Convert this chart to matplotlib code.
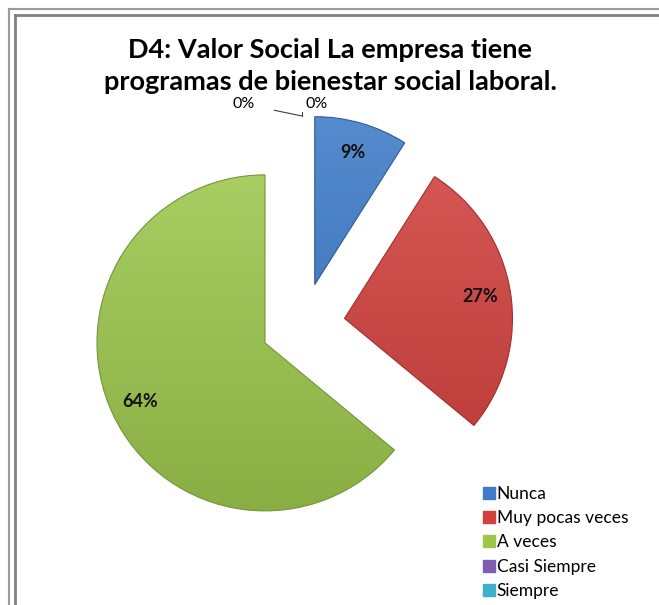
import numpy as np
import matplotlib.pyplot as plt
from matplotlib.lines import Line2D
from matplotlib.colors import to_rgb

title = "D4: Valor Social La empresa tiene\nprogramas de bienestar social laboral."
categories = ["Nunca", "Muy pocas veces", "A veces", "Casi Siempre", "Siempre"]
values = [9, 27, 64, 0, 0]
colors = ["#3E7CC8", "#D2413E", "#9CC64C", "#7E5DB2", "#3FB0CC"]

W, H = 659, 605
fig = plt.figure(figsize=(W / 100, H / 100), dpi=100)
ax = fig.add_axes([0, 0, 1, 1])

cx, cy, r = 303, H - 325, 168
wedges, texts, autotexts = ax.pie(
    values,
    colors=colors,
    startangle=90,
    counterclock=False,
    explode=[42] * len(values),
    center=(cx, cy),
    radius=r,
    autopct=lambda p: "" if p < 0.5 else "%.0f%%" % p,
    pctdistance=0.82,
    textprops=dict(fontsize=13, fontweight="bold", family="Lato", color="#111111"),
    wedgeprops=dict(linewidth=0),
)

# vertical gradient inside each wedge (lighter at the top)
for w, c, v in zip(wedges, colors, values):
    if v == 0:
        w.set_visible(False)
        continue
    base = np.array(to_rgb(c))
    light = base + (1 - base) * 0.12
    dark = base * 0.88
    t = np.linspace(0, 1, 256)[:, None]
    grad = light * (1 - t[..., None]) + dark * t[..., None]
    grad = np.repeat(grad, 2, axis=1)
    x0, y0 = w.center
    im = ax.imshow(grad, extent=(x0 - r, x0 + r, y0 - r, y0 + r),
                   origin="upper", aspect="auto", zorder=w.get_zorder() + 0.1)
    im.set_clip_path(w)
    w.set_edgecolor(tuple(base * 0.75))
    w.set_linewidth(0.8)
    w.set_zorder(w.get_zorder() + 0.2)
    w.set_facecolor("none")

# labels for the empty categories, placed above the top of the pie
zero_idx = [i for i, v in enumerate(values) if v == 0]
tip = (cx - 1, cy + 42 + r - 1)
for k, i in enumerate(zero_idx):
    if k == 0:
        ax.annotate("%d%%" % values[i], xy=tip, xytext=(244, H - 104),
                    ha="center", va="center", fontsize=11.5, family="Lato",
                    arrowprops=dict(arrowstyle="-", color="#404040", lw=0.8,
                                    shrinkA=12, shrinkB=0))
    else:
        ax.annotate("%d%%" % values[i], xy=tip, xytext=(317, H - 104),
                    ha="center", va="center", fontsize=11.5, family="Lato",
                    arrowprops=dict(arrowstyle="-", color="#404040", lw=0.8,
                                    shrinkA=6, shrinkB=0,
                                    connectionstyle="angle,angleA=0,angleB=90"))

ax.set_xlim(0, W)
ax.set_ylim(0, H)
ax.set_aspect("equal")
ax.axis("off")

fig.text(330 / W, 1 - 66 / H, title, ha="center", va="center", fontsize=19.5,
         fontweight="bold", family="Lato", linespacing=1.38)

handles = [Line2D([], [], marker="s", linestyle="none", markersize=8,
                  markerfacecolor=c, markeredgecolor=c) for c in colors]
fig.legend(handles, categories, loc="upper left", bbox_to_anchor=(468 / W, 1 - 470 / H),
           frameon=False, handlelength=0.6, handletextpad=0.15,
           labelspacing=0.48, prop=dict(family="Lato", size=12.5))

# double grey frame around the chart area
for off, col, lw in [(9, "#9a9a9a", 1.5), (15, "#808080", 2.0)]:
    fig.add_artist(plt.Line2D([off / W, off / W], [0, 1 - off / H], transform=fig.transFigure,
                              color=col, lw=lw))
    fig.add_artist(plt.Line2D([off / W, 1], [1 - off / H, 1 - off / H], transform=fig.transFigure,
                              color=col, lw=lw))

fig.savefig("out.png", dpi=100)
